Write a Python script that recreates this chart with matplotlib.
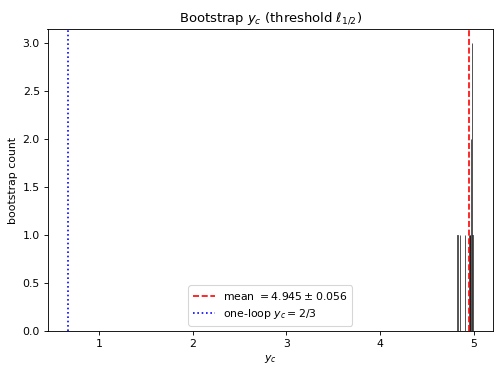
import numpy as np
import matplotlib
matplotlib.use("Agg")
import matplotlib.pyplot as plt

# bootstrap estimates of y_c
yc_samples = [4.825, 4.852, 4.908, 4.952, 4.958, 4.964,
              4.972, 4.972, 4.982, 4.982, 4.982, 4.990]
mean_yc = 4.945
std_yc = 0.056
one_loop_yc = 2 / 3

DPI = 78.5
fig = plt.figure(figsize=(495 / DPI, 365 / DPI), dpi=DPI)
ax = fig.add_axes([47.5 / 495, 1 - 331 / 365, 445.5 / 495, 302 / 365])

ax.hist(yc_samples, bins=40, color="white", edgecolor="black", linewidth=0.6)
ax.axvline(mean_yc, color="red", linestyle="--",
           label=r"mean $= %.3f \pm %.3f$" % (mean_yc, std_yc))
ax.axvline(one_loop_yc, color="blue", linestyle=":",
           label=r"one-loop $y_c = 2/3$")

ax.set_xlabel(r"$y_c$")
ax.set_ylabel("bootstrap count")
ax.set_title(r"Bootstrap $y_c$ (threshold $\ell_{1/2}$)")
ax.legend(loc="lower center")

fig.savefig("out.png", dpi=DPI)
